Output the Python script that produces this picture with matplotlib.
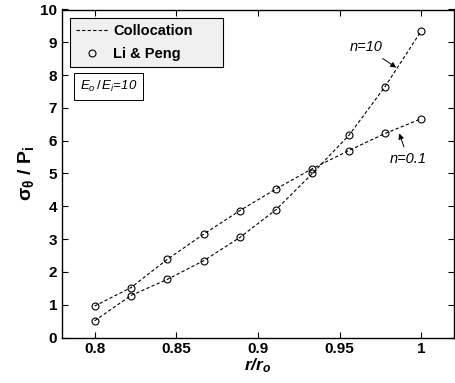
import numpy as np
import matplotlib.pyplot as plt

plt.rcParams['font.family'] = ['Liberation Sans', 'DejaVu Sans']
plt.rcParams['font.weight'] = 'bold'
plt.rcParams['mathtext.fontset'] = 'custom'
plt.rcParams['mathtext.rm'] = 'Liberation Sans:weight=normal'
plt.rcParams['mathtext.bf'] = 'Liberation Sans:weight=bold'
plt.rcParams['mathtext.it'] = 'Liberation Sans:style=italic:weight=normal'
plt.rcParams['mathtext.bfit'] = 'Liberation Sans:style=italic:weight=bold'

# r/r_o stations
r = [0.8, 0.8222, 0.8444, 0.8667, 0.8889, 0.9111, 0.9333, 0.9556, 0.9778, 1.0]
# sigma_theta / P_i
s_n10 = [0.51, 1.28, 1.77, 2.34, 3.05, 3.9, 5.0, 6.16, 7.65, 9.35]
s_n01 = [0.96, 1.52, 2.38, 3.15, 3.87, 4.53, 5.15, 5.70, 6.22, 6.67]

xticks = [0.8, 0.85, 0.9, 0.95, 1.0]
xticklabels = ['0.8', '0.85', '0.9', '0.95', '1']
yticks = list(range(0, 11))

fig = plt.figure(figsize=(4.55, 3.83), dpi=100)
ax = fig.add_axes([62/455, 1 - 337.5/383, 392/455, 328/383])

ax.plot(r, s_n10, '--', color='k', lw=0.8, dashes=(3, 2), label='Collocation')
ax.plot(r, s_n01, '--', color='k', lw=0.8, dashes=(3, 2))
ax.plot(r, s_n10, 'o', mfc='none', mec='k', ms=5, mew=0.8, label='Li & Peng')
ax.plot(r, s_n01, 'o', mfc='none', mec='k', ms=5, mew=0.8)

ax.set_xlim(0.78, 1.02)
ax.set_ylim(0, 10)
ax.set_xticks(xticks)
ax.set_xticklabels(xticklabels)
ax.set_yticks(yticks)
ax.tick_params(direction='in', top=True, right=True, length=4, width=0.8,
               labelsize=11)
for sp in ax.spines.values():
    sp.set_linewidth(1.0)

ax.set_xlabel(r'$\mathbfit{r/r}_\mathbfit{o}$', fontsize=12.5, labelpad=0)
ax.set_ylabel(r'$\mathbf{\sigma_\theta}$ / P$_\mathbf{i}$', fontsize=14,
              fontweight='bold', labelpad=3)

leg = ax.legend(loc='upper left', bbox_to_anchor=(0.0204, 0.5, 0.39, 0.474),
                mode='expand', borderaxespad=0,
                fancybox=False, edgecolor='k', facecolor='#f0f0f0', framealpha=1,
                prop={'weight': 'bold', 'size': 10.5}, handlelength=2.2,
                borderpad=0.42, labelspacing=0.58, handletextpad=0.35)
leg.get_frame().set_linewidth(0.8)

ax.text(0.7908, 7.66, r'$E_o\,/\,E_i$=10', style='italic', fontweight='normal',
        fontsize=9.5, va='center', ha='left',
        bbox=dict(boxstyle='square,pad=0.45', fc='white', ec='k', lw=0.7))

ax.annotate('n=10', xy=(0.9846, 8.23), xytext=(0.966, 8.85), style='italic',
            fontweight='normal', fontsize=10.5, ha='center', va='center',
            arrowprops=dict(arrowstyle='-|>', color='k', lw=0.7,
                            mutation_scale=8, shrinkA=2, shrinkB=0))
ax.annotate('n=0.1', xy=(0.9865, 6.22), xytext=(0.992, 5.43), style='italic',
            fontweight='normal', fontsize=10.5, ha='center', va='center',
            arrowprops=dict(arrowstyle='-|>', color='k', lw=0.7,
                            mutation_scale=8, shrinkA=2, shrinkB=0))

fig.savefig('out.png', dpi=100)
